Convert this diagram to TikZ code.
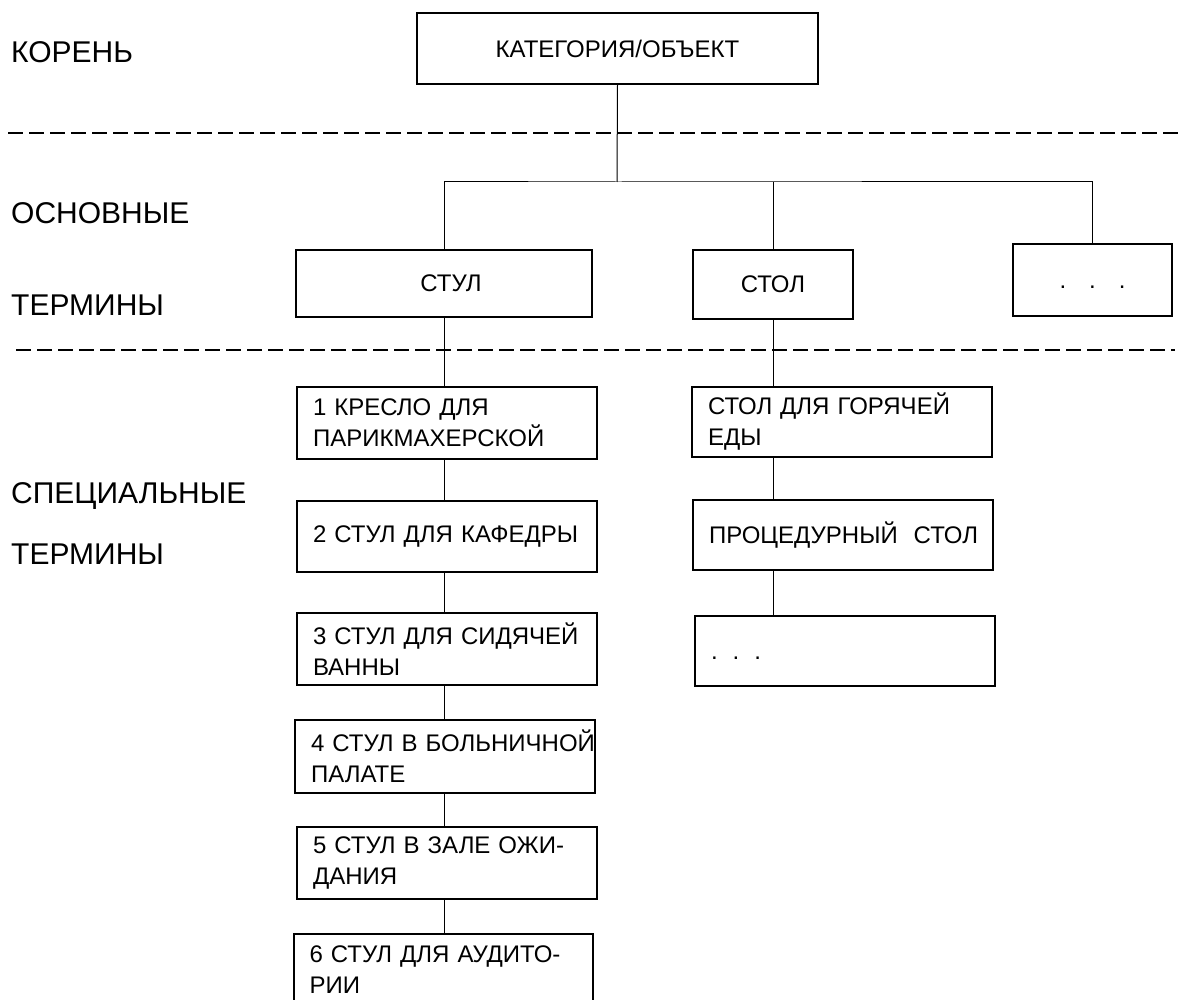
\documentclass[tikz,border=0pt]{standalone}
\usepackage{fontspec}
\setmainfont{Liberation Sans}
\begin{document}
\begin{tikzpicture}[x=1pt,y=-1pt,
  box/.style={draw, line width=1.2pt, inner sep=0pt, font=\fontsize{24}{31}\selectfont},
  cbox/.style={box, align=center},
  lbox/.style={box, align=left, text width=268pt, minimum width=300pt, minimum height=72pt},
  lbl/.style={anchor=base west, inner sep=0pt, font=\fontsize{30}{35}\selectfont},
  conn/.style={line width=1pt},
  sep/.style={line width=2.5pt, dash pattern=on 15pt off 6pt}]
\useasboundingbox (0,0) rectangle (1179,1000);
\clip (0,0) rectangle (1179,1000);

% level labels
\node[lbl] (lroot) at (11,63) {КОРЕНЬ};
\node[lbl] (lbas1) at (11,224) {ОСНОВНЫЕ};
\node[lbl] (lbas2) at (11,316) {ТЕРМИНЫ};
\node[lbl] (lspc1) at (11,503) {СПЕЦИАЛЬНЫЕ};
\node[lbl] (lspc2) at (11,564) {ТЕРМИНЫ};

% separators
\draw[sep] (8,133) -- (1179,133);
\draw[sep] (16,350) -- (1175,350);

% root and basic terms
\node[cbox, minimum width=401pt, minimum height=71pt] (root) at (617.5,48.5) {КАТЕГОРИЯ/ОБЪЕКТ};
\node[cbox, minimum width=296pt, minimum height=67pt] (stul) at (444,283.5) {\hspace{14pt}СТУЛ};
\node[cbox, minimum width=160pt, minimum height=69pt] (stol) at (773,284.5) {СТОЛ};
\node[cbox, minimum width=159pt, minimum height=72pt] (more) at (1092.5,280) {\vphantom{Е}.\hspace{23pt}.\hspace{23pt}.};

% special terms: chairs
\node[lbox] (s1) at (447,423) {\mbox{1 КРЕСЛО ДЛЯ}\\\mbox{ПАРИКМАХЕРСКОЙ}};
\node[lbox, minimum height=71pt] (s2) at (447,536.5) {\mbox{2 СТУЛ ДЛЯ КАФЕДРЫ}};
\node[lbox] (s3) at (447,649) {\mbox{3 СТУЛ ДЛЯ СИДЯЧЕЙ}\\ВАННЫ};
\node[lbox, minimum height=73pt] (s4) at (445,756.5) {\mbox{4 СТУЛ В БОЛЬНИЧНОЙ}\\ПАЛАТЕ};
\node[lbox] (s5) at (447,863) {\mbox{5 СТУЛ В ЗАЛЕ ОЖИ-}\\ДАНИЯ};
\node[lbox, minimum width=299pt] (s6) at (443.5,970) {\mbox{6 СТУЛ ДЛЯ АУДИТО-}\\РИИ};

% special terms: tables
\node[lbox, minimum height=70pt] (r1) at (842,422) {\mbox{СТОЛ ДЛЯ ГОРЯЧЕЙ}\\ЕДЫ};
\node[lbox, minimum height=70pt] (r2) at (843,535) {\mbox{ПРОЦЕДУРНЫЙ\ \ СТОЛ}};
\node[lbox, minimum height=70pt] (r3) at (845,651) {\vphantom{Е}.\hspace{15pt}.\hspace{15pt}.};

% connectors
\coordinate (bus) at (617,182);
\draw[conn] (root.south) -- (bus);
\draw[conn] (stul.north) |- (bus) -| (more.north);
\draw[conn] (stol.north) -- (stol.north |- bus);

\draw[conn] (stul.south) -- (stul.south |- s1.north);
\draw[conn] (s1.south -| stul.south) -- (s2.north -| stul.south);
\draw[conn] (s2.south -| stul.south) -- (s3.north -| stul.south);
\draw[conn] (s3.south -| stul.south) -- (s4.north -| stul.south);
\draw[conn] (s4.south -| stul.south) -- (s5.north -| stul.south);
\draw[conn] (s5.south -| stul.south) -- (s6.north -| stul.south);

\draw[conn] (stol.south) -- (stol.south |- r1.north);
\draw[conn] (r1.south -| stol.south) -- (r2.north -| stol.south);
\draw[conn] (r2.south -| stol.south) -- (r3.north -| stol.south);
\end{tikzpicture}
\end{document}
